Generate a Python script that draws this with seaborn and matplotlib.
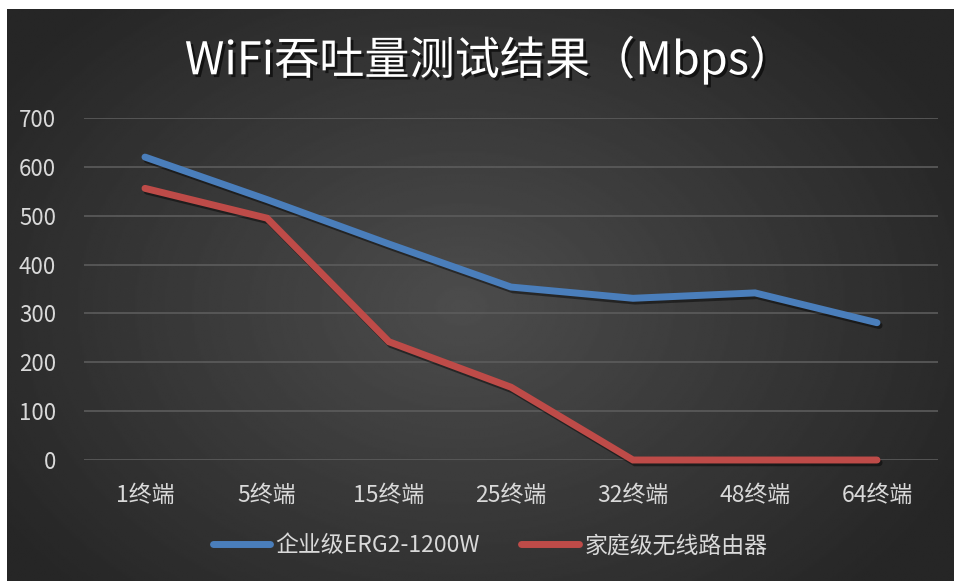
import numpy as np
import pandas as pd
import matplotlib
matplotlib.use("Agg")
import matplotlib.pyplot as plt
import matplotlib.patheffects as pe
from matplotlib.lines import Line2D
import seaborn as sns

# ==========================================
# DATA
# ==========================================
categories = ["1终端", "5终端", "15终端", "25终端", "32终端", "48终端", "64终端"]
enterprise = [620, 533, 442, 354, 331, 342, 281]
home = [556, 495, 242, 149, 0, 0, 0]
series_names = ["企业级ERG2-1200W", "家庭级无线路由器"]
series_colors = ["#4a7ebb", "#be4b48"]
title_text = "WiFi吞吐量测试结果（Mbps）"
y_ticks = [0, 100, 200, 300, 400, 500, 600, 700]

df = pd.DataFrame({
    "终端": categories * 2,
    "吞吐量": enterprise + home,
    "设备": [series_names[0]] * len(categories) + [series_names[1]] * len(categories),
})

# ==========================================
# STYLE
# ==========================================
sns.set_style("dark")
plt.rcParams["font.family"] = ["Noto Sans CJK SC", "DejaVu Sans"]
plt.rcParams["axes.unicode_minus"] = False

W, H = 955, 581
fig = plt.figure(figsize=(W / 100, H / 100), dpi=100, facecolor="white")

# dark panel with a radial gradient (lighter in the middle)
bg = fig.add_axes([7 / W, 0, (953 - 7) / W, 1 - 9 / H])
bg.set_axis_off()
yy, xx = np.mgrid[0:1:300j, 0:1:500j]
r = np.sqrt(((xx - 0.48) / 0.62) ** 2 + ((yy - 0.52) / 0.75) ** 2)
shade = np.clip(0.30 - 0.16 * r, 0.15, 0.30)
bg.imshow(shade, cmap="gray", vmin=0, vmax=1, aspect="auto",
          extent=[0, 1, 0, 1], interpolation="bilinear")
bg.set_xlim(0, 1)
bg.set_ylim(0, 1)

# main plot area
ax = fig.add_axes([84 / W, 1 - 460 / H, (938 - 84) / W, (460 - 118) / H])
ax.patch.set_alpha(0)

sns.lineplot(
    data=df, x="终端", y="吞吐量", hue="设备", palette=series_colors,
    sort=False, linewidth=5, ax=ax, legend=False,
)
for line in ax.get_lines():
    line.set_solid_capstyle("round")
    line.set_solid_joinstyle("miter")
    line.set_clip_on(False)
    line.set_path_effects([
        pe.SimpleLineShadow(offset=(1.5, -2), shadow_color="black", alpha=0.45),
        pe.Normal(),
    ])

ax.set_ylim(0, 700)
ax.set_yticks(y_ticks)
ax.set_xlim(-0.5, len(categories) - 0.5)
ax.grid(axis="y", color="#5c5c5c", linewidth=1.2)
ax.grid(axis="x", visible=False)
ax.set_axisbelow(True)
for s in ax.spines.values():
    s.set_visible(False)
ax.set_xlabel("")
ax.set_ylabel("")
ax.tick_params(axis="y", colors="#d9d9d9", labelsize=16, length=0, pad=20)
ax.tick_params(axis="x", colors="#d9d9d9", labelsize=16.5, length=0, pad=17)

fig.text(489 / W, 1 - 60 / H, title_text, ha="center", va="center",
         fontsize=32.5, color="white", fontweight="medium",
         path_effects=[pe.SimplePatchShadow(offset=(2, -2), shadow_rgbFace="black", alpha=0.6),
                       pe.Normal()])

handles = [Line2D([0], [0], color=c, linewidth=5, solid_capstyle="round")
           for c in series_colors]
leg = fig.legend(handles, series_names, loc="center", bbox_to_anchor=(490 / W, 1 - 546 / H),
                 ncol=2, frameon=False, fontsize=16.5, handlelength=2.5,
                 handletextpad=0.25, columnspacing=1.8)
for t in leg.get_texts():
    t.set_color("#d9d9d9")

fig.savefig("out.png", dpi=100, facecolor="white")
